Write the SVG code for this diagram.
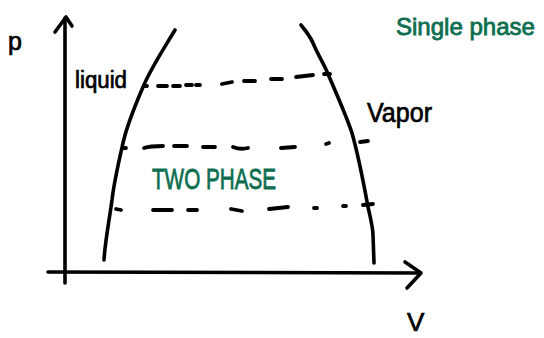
<svg xmlns="http://www.w3.org/2000/svg" width="544" height="338" viewBox="0 0 544 338">
<style>
.ink{fill:none;stroke:#000;stroke-width:3.6;stroke-linecap:round;stroke-linejoin:round}
.dash{fill:none;stroke:#000;stroke-width:3.8;stroke-linecap:round}
.lbl{font-family:"Liberation Sans",Arial,sans-serif;fill:#000;stroke:#000;stroke-width:0.7}
.grn{font-family:"Liberation Sans",Arial,sans-serif;fill:#0d6e50;stroke:#0d6e50;stroke-width:0.8}
</style>
<rect width="544" height="338" fill="#fff"/>
<g id="axes">
<path class="ink" d="M65,283 L65,18"/>
<path class="ink" d="M55,32 L66,17 L72,26"/>
<path class="ink" d="M48,272 L420,273"/>
<path class="ink" d="M405,262 L421,273 L407,288"/>
</g>
<g id="liquid-curve">
<path class="ink" d="M175,30 C163,50 151,68 143,87 C134,108 127,125 123,143 C118,165 114,182 112,200 C109,222 105,242 104,260"/>
</g>
<g id="vapor-curve">
<path class="ink" d="M301,25 C305,30 310,36 313,43 C318,55 324,64 328,74 C337,95 346,115 352,133 C359,158 364,185 368,207 C371,220 373,228 373,235 L374,263"/>
</g>
<g id="connectors">
<g id="tie-top">
<path class="dash" d="M144,86 L147,86"/>
<path class="dash" d="M158,86 L167,86"/>
<path class="dash" d="M173,86 L180,86"/>
<path class="dash" d="M186,85 L192,85"/>
<path class="dash" d="M196,85 L200,85"/>
<path class="dash" d="M222,84 L232,82"/>
<path class="dash" d="M244,81 L255,81"/>
<path class="dash" d="M271,79 L282,79"/>
<path class="dash" d="M296,77 L313,75"/>
<path class="dash" d="M324,74 L330,74"/>
</g>
<g id="tie-middle">
<path class="dash" d="M124,148 L126,148"/>
<path class="dash" d="M144,148 C150,146 156,146 163,146"/>
<path class="dash" d="M174,146 L187,146"/>
<path class="dash" d="M203,147 L215,147"/>
<path class="dash" d="M233,147 C238,149 244,149 248,148"/>
<path class="dash" d="M281,148 L295,147"/>
<path class="dash" d="M326,144 L329,143"/>
<path class="dash" d="M360,142 L368,141"/>
</g>
<g id="tie-bottom">
<path class="dash" d="M116,209 L121,210"/>
<path class="dash" d="M153,210 L172,210"/>
<path class="dash" d="M188,210 L197,210"/>
<path class="dash" d="M231,209 L242,211"/>
<path class="dash" d="M269,209 L288,207"/>
<path class="dash" d="M314,208 L317,208"/>
<path class="dash" d="M343,206 L346,206"/>
<path class="dash" d="M363,205 L373,204"/>
</g>
</g>
<g id="labels">
<text class="lbl" x="8" y="50" font-size="25">p</text>
<text class="lbl" x="75" y="88" font-size="23" textLength="52" lengthAdjust="spacingAndGlyphs">liquid</text>
<text class="lbl" x="367" y="122" font-size="27" textLength="65" lengthAdjust="spacingAndGlyphs">Vapor</text>
<text class="lbl" x="407" y="331" font-size="26">V</text>
<text class="grn" x="396" y="35" font-size="24" textLength="139" lengthAdjust="spacingAndGlyphs">Single phase</text>
<text class="grn" x="152" y="189" font-size="30" textLength="124" lengthAdjust="spacingAndGlyphs">TWO PHASE</text>
</g>
</svg>
